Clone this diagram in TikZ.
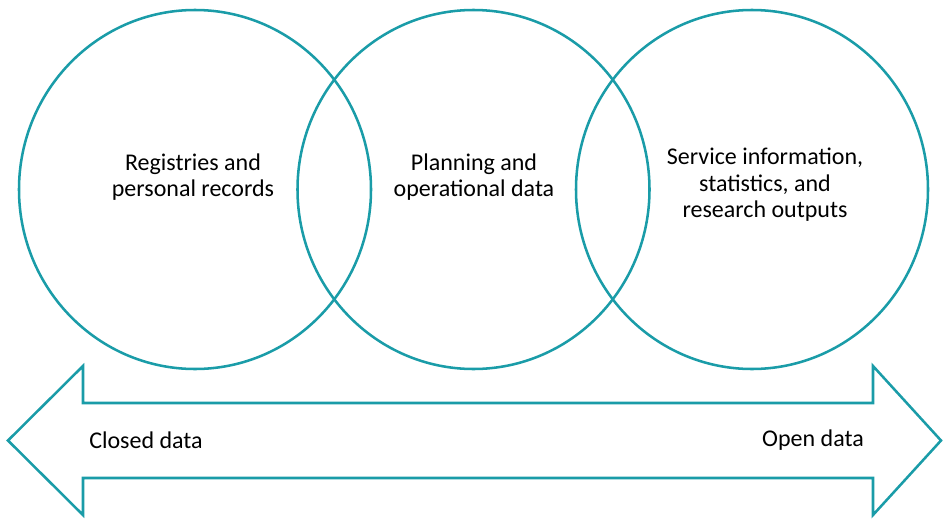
\documentclass[tikz,border=0pt]{standalone}
\usepackage{fontspec}
\setmainfont{Carlito}
\definecolor{tealline}{HTML}{1A9CA8}
\begin{document}
\begin{tikzpicture}[x=0.75pt, y=-0.75pt, line width=1.9pt,
    label text/.style={font=\fontsize{18}{19.8}\selectfont, align=center}]

  \useasboundingbox (0,0) rectangle (943,518);

  % Three overlapping data circles
  \foreach \cx in {195, 473.5, 752} {
    \draw[tealline] (\cx,189.5) ellipse [x radius=176, y radius=179.5];
  }

  % Circle labels
  \node[label text] (registries) at (193,177)
    {Registries and\\personal records};
  \node[label text] (planning) at (474,177)
    {Planning and\\operational data};
  \node[label text] (service) at (765,185)
    {Service information,\\statistics, and\\research outputs};

  % Double-headed block arrow (closed to open)
  \draw[tealline, line join=miter]
    (8,440.5) -- (83,366) -- (83,403) -- (873,403) -- (873,366) -- (941,440.5)
    -- (873,515) -- (873,478) -- (83,478) -- (83,515) -- cycle;

  % Arrow end labels
  \node[label text] (closed) at (146,440) {Closed data};
  \node[label text] (open) at (813,440) {Open data};

\end{tikzpicture}
\end{document}
